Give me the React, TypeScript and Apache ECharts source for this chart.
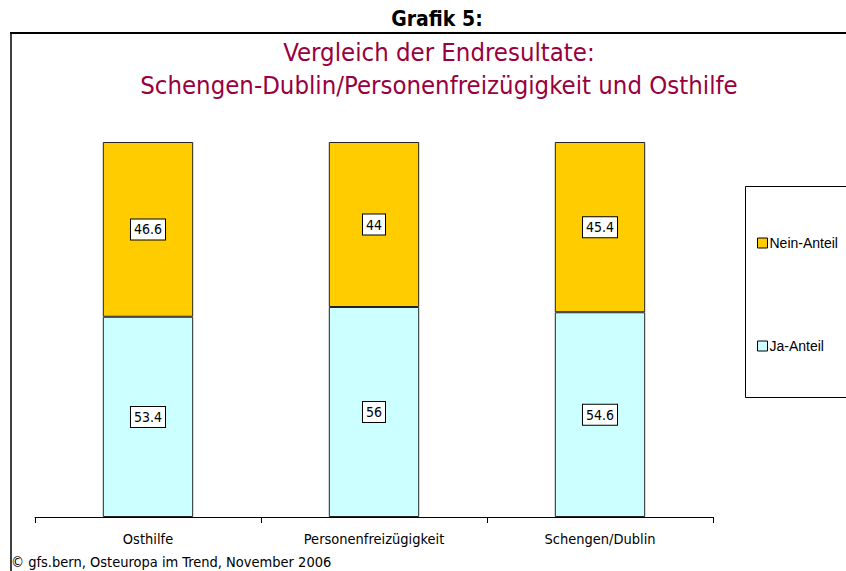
import React, { useEffect, useRef } from "react";
import * as echarts from "echarts";

const categories = ["Osthilfe", "Personenfreizügigkeit", "Schengen/Dublin"];
const jaValues = [53.4, 56, 54.6];
const neinValues = [46.6, 44, 45.4];
const seriesNames = ["Ja-Anteil", "Nein-Anteil"];

const NARROW = "DejaVu Sans Condensed, sans-serif";

export default function App() {
  const ref = useRef<HTMLDivElement>(null);
  useEffect(() => {
    const chart = echarts.init(ref.current!, null, { renderer: "svg" });
    const labelStyle = {
      show: true,
      position: "inside",
      color: "#000",
      fontFamily: NARROW,
      fontSize: 14,
      backgroundColor: "#fff",
      borderColor: "#000",
      borderWidth: 1,
      padding: [3, 3, 3, 3],
    };
    chart.setOption({
      animation: false,
      title: [
        {
          text: "Grafik 5:",
          left: 432,
          textAlign: "center",
          top: 3,
          textStyle: { fontFamily: NARROW, fontWeight: "bold", fontSize: 21, color: "#000" },
        },
        {
          text: "Vergleich der Endresultate:\nSchengen-Dublin/Personenfreizügigkeit und Osthilfe",
          left: 434,
          textAlign: "center",
          top: 30,
          textStyle: { fontFamily: NARROW, fontWeight: "normal", fontSize: 25.5, lineHeight: 33, color: "#99003D" },
        },
      ],
      graphic: [
        { type: "line", shape: { x1: 10, y1: 33, x2: 846, y2: 33 }, style: { stroke: "#000", lineWidth: 2 } },
        { type: "line", shape: { x1: 11, y1: 33, x2: 11, y2: 571 }, style: { stroke: "#000", lineWidth: 1.5 } },
        { type: "rect", shape: { x: 745.5, y: 186.5, width: 110, height: 211 }, style: { fill: "#fff", stroke: "#000", lineWidth: 1 } },
        {
          type: "text",
          left: 11,
          top: 554,
          style: { text: "© gfs.bern, Osteuropa im Trend, November 2006", fontFamily: NARROW, fontSize: 14.5, fill: "#000" },
        },
      ],
      legend: {
        orient: "vertical",
        left: 752,
        top: 231,
        itemGap: 89,
        itemWidth: 10,
        itemHeight: 10,
        itemStyle: { borderColor: "#000", borderWidth: 1 },
        textStyle: { fontFamily: "Liberation Sans, Arial, sans-serif", fontSize: 14, color: "#000", padding: [0, 0, 0, -3] },
        data: [seriesNames[1], seriesNames[0]],
        icon: "rect",
      },
      grid: { left: 35, right: 133, top: 142, bottom: 54 },
      xAxis: {
        type: "category",
        data: categories,
        axisLine: { lineStyle: { color: "#000", width: 1 } },
        axisTick: { show: true, length: 6, lineStyle: { color: "#000" } },
        axisLabel: { color: "#000", fontFamily: NARROW, fontSize: 14.5, margin: 14 },
      },
      yAxis: { type: "value", min: 0, max: 100, show: false, splitLine: { show: false } },
      series: [
        {
          name: seriesNames[0],
          type: "bar",
          stack: "total",
          data: jaValues,
          barWidth: "40%",
          itemStyle: { color: "#CCFFFF", borderColor: "#222", borderWidth: 1 },
          label: labelStyle,
        },
        {
          name: seriesNames[1],
          type: "bar",
          stack: "total",
          data: neinValues,
          barWidth: "40%",
          itemStyle: { color: "#FFCC00", borderColor: "#222", borderWidth: 1 },
          label: labelStyle,
        },
      ],
    });
    return () => chart.dispose();
  }, []);
  return <div ref={ref} style={{ width: 846, height: 571, position: "absolute", left: 0, top: 0, background: "#fff" }} />;
}
